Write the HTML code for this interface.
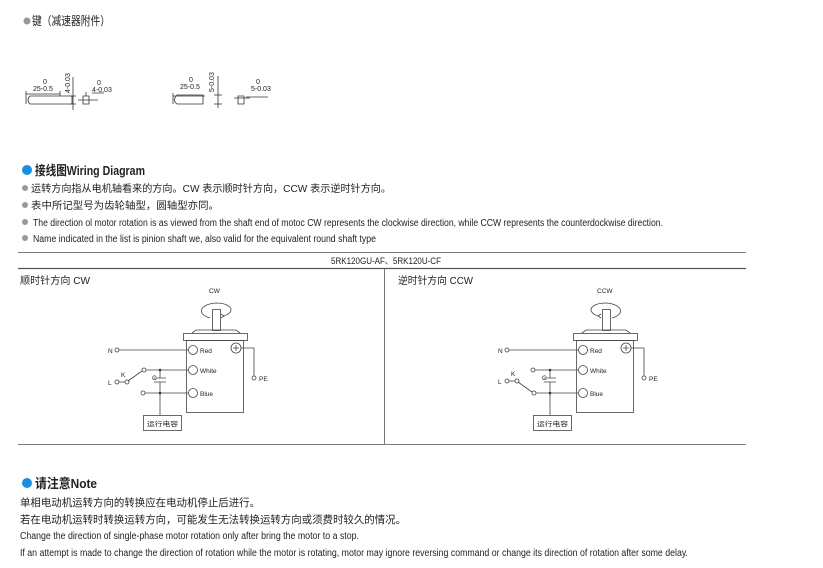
<!DOCTYPE html>
<html><head><meta charset="utf-8"><style>
html,body{margin:0;padding:0;background:#fff;width:823px;height:568px;overflow:hidden}
svg{display:block}
text{font-family:"Liberation Sans","Noto Sans CJK SC",sans-serif;fill:#222}
</style></head><body>
<svg width="823" height="568" viewBox="0 0 823 568" xmlns="http://www.w3.org/2000/svg">
<circle cx="27" cy="21" r="3.5" fill="#999"/>
<text x="32" y="25" font-size="12" textLength="78" lengthAdjust="spacingAndGlyphs">键（减速器附件）</text>

<g stroke="#333" stroke-width="0.8" fill="none">
 <path d="M26 94 H60 M26 91 V104 M60 91 V96"/>
 <path d="M30 96 H72 V104 H30 Q26 100 30 96 Z"/>
 <path d="M73 77 V110 M70 104 H76 M70 96 H76"/>
 <path d="M78 100 H98 M83 96 V104 H89 V96 Z M86 96 V92 M92 93 H104"/>
 <path d="M173 96 H205 M173 93 V104"/>
 <path d="M177 95 H203 V104 H177 Q172 100 177 95 Z"/>
 <path d="M218 76 V108 M214 104 H222 M214 95 H222"/>
 <path d="M234 98 H250 M238 96 V104 H244 V96 Z M246 97 H268"/>
</g>
<g font-size="7">
 <text x="33" y="91">25-0.5</text><text x="43" y="84">0</text>
 <text x="64" y="87" transform="rotate(-90 70 87)">4-0.03</text>
 <text x="92" y="92">4-0.03</text><text x="97" y="85">0</text>
 <text x="180" y="89">25-0.5</text><text x="189" y="82">0</text>
 <text x="208" y="86" transform="rotate(-90 214 86)">5-0.03</text>
 <text x="251" y="91">5-0.03</text><text x="256" y="84">0</text>
</g>

<circle cx="27" cy="170" r="5" fill="#1a8fe0"/>
<text x="35" y="175" font-size="13" font-weight="bold" textLength="110" lengthAdjust="spacingAndGlyphs">接线图Wiring Diagram</text>
<g font-size="10" fill="#444">
<circle cx="25" cy="188" r="3" fill="#999"/><text x="31" y="192" textLength="360" lengthAdjust="spacingAndGlyphs">运转方向指从电机轴看来的方向。CW 表示顺时针方向，CCW 表示逆时针方向。</text>
<circle cx="25" cy="205" r="3" fill="#999"/><text x="31" y="209" textLength="188" lengthAdjust="spacingAndGlyphs">表中所记型号为齿轮轴型，圆轴型亦同。</text>
<circle cx="25" cy="222" r="3" fill="#999"/><text x="33" y="226" textLength="630" lengthAdjust="spacingAndGlyphs">The direction ol motor rotation is as viewed from the shaft end of motoc CW represents the clockwise direction, while CCW represents the counterdockwise direction.</text>
<circle cx="25" cy="238" r="3" fill="#999"/><text x="33" y="242" textLength="343" lengthAdjust="spacingAndGlyphs">Name indicated in the list is pinion shaft we, also valid for the equivalent round shaft type</text>
</g>

<g stroke="#555" fill="none">
<line x1="18" y1="252.5" x2="746" y2="252.5" stroke-width="0.8"/>
<line x1="18" y1="268.5" x2="746" y2="268.5" stroke-width="1.2"/>
<line x1="18" y1="444.5" x2="746" y2="444.5" stroke-width="0.8"/>
<line x1="384.5" y1="268" x2="384.5" y2="444" stroke-width="0.8"/>
</g>
<text x="331" y="264" font-size="9" textLength="110" lengthAdjust="spacingAndGlyphs">5RK120GU-AF、5RK120U-CF</text>
<text x="20" y="284" font-size="10" textLength="70" lengthAdjust="spacingAndGlyphs">顺时针方向 CW</text>
<text x="398" y="284" font-size="10" textLength="75" lengthAdjust="spacingAndGlyphs">逆时针方向 CCW</text>

<g>
<g stroke="#444" stroke-width="0.8" fill="none">
 <rect x="186.5" y="340.5" width="57" height="72"/>
 <rect x="183.5" y="333.5" width="64" height="7"/>
 <path d="M192 333 L196 330 H236 L240 333"/>
 <rect x="212.5" y="309.5" width="8" height="21"/>
 <path d="M210 318 C196 314 200 304 216 303 C232 303 236 312 224 316"/>
 <path d="M224 316 l-3 -2 M224 316 l-3 2"/>
 <circle cx="117" cy="350" r="2"/><line x1="119" y1="350" x2="189" y2="350"/>
 <circle cx="193" cy="350" r="4.5"/>
 <circle cx="236" cy="348" r="5"/><path d="M236 345 V351 M233 348 H239"/>
 <path d="M241 348 H254 V376"/><circle cx="254" cy="378" r="2"/>
 <circle cx="193" cy="370" r="4.5"/><circle cx="193" cy="393" r="4.5"/>
 <circle cx="117" cy="382" r="2"/><line x1="119" y1="382" x2="125" y2="382"/>
 <circle cx="127" cy="382" r="2"/><line x1="128" y1="381" x2="142" y2="371"/>
 <circle cx="144" cy="370" r="2"/><line x1="146" y1="370" x2="188" y2="370"/>
 <circle cx="143" cy="393" r="2"/><line x1="145" y1="393" x2="188" y2="393"/>
 <path d="M160 370 V378 M154 378 H166 M154 382 H166 M160 382 V415"/>
 <rect x="143.5" y="415.5" width="38" height="15"/>
</g>
<circle cx="160" cy="370" r="1.3" fill="#333"/><circle cx="160" cy="393" r="1.3" fill="#333"/>
<g font-size="6.5">
 <text x="209" y="293">CW</text>
 <text x="108" y="353">N</text><text x="108" y="385">L</text><text x="121" y="377">K</text>
 <text x="152" y="380">C</text>
 <text x="200" y="353">Red</text><text x="200" y="373">White</text><text x="200" y="396">Blue</text>
 <text x="259" y="381">PE</text>
 <text x="147" y="426" textLength="31" lengthAdjust="spacingAndGlyphs">运行电容</text>
</g>
</g>

<g transform="translate(390 0)">
<g stroke="#444" stroke-width="0.8" fill="none">
 <rect x="186.5" y="340.5" width="57" height="72"/>
 <rect x="183.5" y="333.5" width="64" height="7"/>
 <path d="M192 333 L196 330 H236 L240 333"/>
 <rect x="212.5" y="309.5" width="8" height="21"/>
 <path d="M222 318 C236 314 232 304 216 303 C200 303 196 312 208 316"/>
 <path d="M208 316 l3 -2 M208 316 l3 2"/>
 <circle cx="117" cy="350" r="2"/><line x1="119" y1="350" x2="189" y2="350"/>
 <circle cx="193" cy="350" r="4.5"/>
 <circle cx="236" cy="348" r="5"/><path d="M236 345 V351 M233 348 H239"/>
 <path d="M241 348 H254 V376"/><circle cx="254" cy="378" r="2"/>
 <circle cx="193" cy="370" r="4.5"/><circle cx="193" cy="393" r="4.5"/>
 <circle cx="117" cy="381" r="2"/><line x1="119" y1="381" x2="125" y2="381"/>
 <circle cx="127" cy="381" r="2"/><line x1="128" y1="382" x2="142" y2="392"/>
 <circle cx="144" cy="393" r="2"/><line x1="146" y1="393" x2="188" y2="393"/>
 <circle cx="143" cy="370" r="2"/><line x1="145" y1="370" x2="188" y2="370"/>
 <path d="M160 370 V378 M154 378 H166 M154 382 H166 M160 382 V415"/>
 <rect x="143.5" y="415.5" width="38" height="15"/>
</g>
<circle cx="160" cy="370" r="1.3" fill="#333"/><circle cx="160" cy="393" r="1.3" fill="#333"/>
<g font-size="6.5">
 <text x="207" y="293">CCW</text>
 <text x="108" y="353">N</text><text x="108" y="384">L</text><text x="121" y="376">K</text>
 <text x="152" y="380">C</text>
 <text x="200" y="353">Red</text><text x="200" y="373">White</text><text x="200" y="396">Blue</text>
 <text x="259" y="381">PE</text>
 <text x="147" y="426" textLength="31" lengthAdjust="spacingAndGlyphs">运行电容</text>
</g>
</g>

<circle cx="27" cy="483" r="5" fill="#1a8fe0"/>
<text x="35" y="488" font-size="13" font-weight="bold" textLength="62" lengthAdjust="spacingAndGlyphs">请注意Note</text>
<g font-size="10.5" fill="#333">
<text x="20" y="506" textLength="240" lengthAdjust="spacingAndGlyphs">单相电动机运转方向的转换应在电动机停止后进行。</text>
<text x="20" y="523" textLength="386" lengthAdjust="spacingAndGlyphs">若在电动机运转时转换运转方向，可能发生无法转换运转方向或须费时较久的情况。</text>
<text x="20" y="539" font-size="10" textLength="339" lengthAdjust="spacingAndGlyphs">Change the direction of single-phase motor rotation only after bring the motor to a stop.</text>
<text x="20" y="556" font-size="10" textLength="668" lengthAdjust="spacingAndGlyphs">If an attempt is made to change the direction of rotation while the motor is rotating, motor may ignore reversing command or change its direction of rotation after some delay.</text>
</g>
</svg>
</body></html>
